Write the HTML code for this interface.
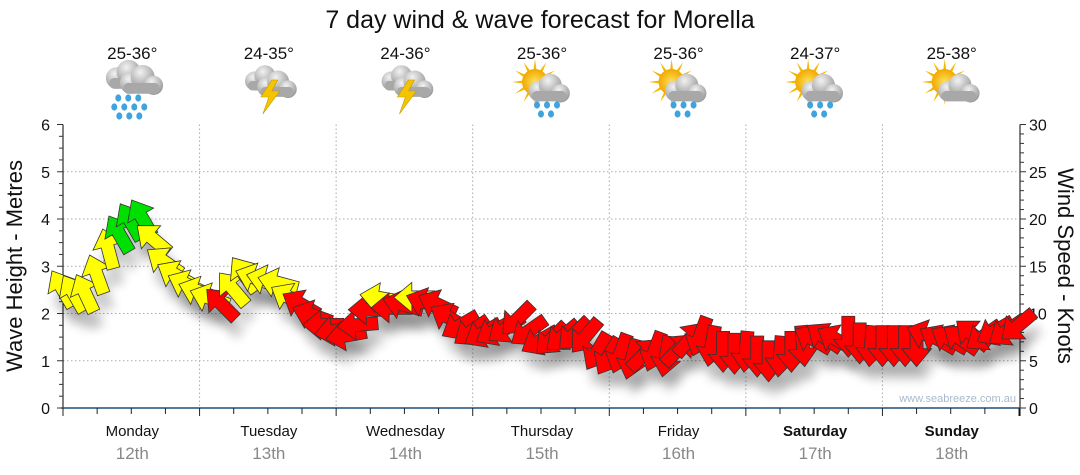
<!DOCTYPE html>
<html><head><meta charset="utf-8">
<style>
body{margin:0;background:#fff;}
svg{display:block;font-family:"Liberation Sans","DejaVu Sans",sans-serif;}
</style></head>
<body>
<svg id="chart" width="1080" height="475" viewBox="0 0 1080 475" xmlns="http://www.w3.org/2000/svg">
<defs>
<filter id="sh" x="-50%" y="-50%" width="200%" height="200%"><feGaussianBlur stdDeviation="5"/></filter>
<radialGradient id="cloudG" cx="0.4" cy="0.3" r="0.8"><stop offset="0" stop-color="#f2f2f2"/><stop offset="1" stop-color="#8c8c8c"/></radialGradient>
<radialGradient id="sunG" cx="0.5" cy="0.5" r="0.5"><stop offset="0" stop-color="#ffe25a"/><stop offset="1" stop-color="#f0a800"/></radialGradient>
</defs>
<text x="540" y="28" text-anchor="middle" font-size="25" fill="#111">7 day wind &amp; wave forecast for Morella</text>
<g id="grid"></g>
<g id="icons"></g>
<g id="axes"></g>
<g id="shadows"></g>
<polyline id="windline" fill="none" stroke="#aaa" stroke-width="1"/>
<g id="arrows"></g>
<text transform="translate(22,266) rotate(-90)" text-anchor="middle" font-size="22" fill="#111">Wave Height - Metres</text>
<text transform="translate(1058,266) rotate(90)" text-anchor="middle" font-size="22" fill="#111">Wind Speed - Knots</text>
<text x="1016" y="402" text-anchor="end" font-size="11" fill="#a9b9cc">www.seabreeze.com.au</text>
</svg>
<script>
const days = ["Monday","Tuesday","Wednesday","Thursday","Friday","Saturday","Sunday"];
const dates = ["12th","13th","14th","15th","16th","17th","18th"];
const temps = ["25-36°","24-35°","24-36°","25-36°","25-36°","24-37°","25-38°"];
const icons = ["rain","storm","storm","sunrain","sunrain","sunrain","suncloud"];
const leftTicks = [0,1,2,3,4,5,6];
const rightTicks = [0,5,10,15,20,25,30];
// wind speed in knots, every 2 hours from Monday 00:00
const windSpeed = [12.5,12,12,14,16.7,18.3,19.6,20,17.8,15.4,14,13,12.3,
 11.6,10.9,12.5,14,13.7,13.5,13.2,11.6,10.9,9.8,8.8,8.2,
 7.7,8.8,10.4,11.6,10.6,10.9,11.7,11.1,10.9,9.5,8.8,8.2,
 8,8.2,8.5,9.5,8.2,7.2,7.4,7.7,7.9,7.7,6.1,5.6,
 5.9,5.3,5.6,6.1,5.6,6.1,7.2,7.7,6.7,6.1,5.9,6.1,
 5.6,5.1,5.6,6.1,6.7,7.2,7.4,7.2,7.7,7,6.7,6.7,
 6.7,6.7,6.7,7.7,7.2,7.2,7.2,7.7,7.7,8.2,8.2,8.8];
// direction the arrow points, degrees clockwise from up
const windDir = [330,330,335,340,345,330,330,330,310,305,300,295,290,
 290,315,320,325,290,285,285,300,300,290,270,260,
 260,265,270,280,270,285,270,290,295,300,240,235,
 240,240,235,225,235,240,225,230,225,220,210,210,
 200,195,45,200,190,45,40,200,190,180,180,185,
 180,180,185,180,175,300,305,300,180,180,185,180,
 180,180,180,290,300,300,305,310,235,240,235,230,225];

const NS="http://www.w3.org/2000/svg";
const X0=63,X1=1019,Y0=408,Y6=124.5;
const hoursTotal=168;
const xT=h=>X0+(X1-X0)*h/hoursTotal;
const yM=m=>Y0-(Y0-Y6)*m/6;
const yK=k=>yM(k/5);
function mk(tag,attrs,parent){const e=document.createElementNS(NS,tag);for(const k in attrs)e.setAttribute(k,attrs[k]);parent.appendChild(e);return e;}
const grid=document.getElementById('grid'),axes=document.getElementById('axes');
for(let m=1;m<=5;m++){const l=mk('line',{x1:X0,x2:X1,y1:yM(m),y2:yM(m),stroke:'#aaa','stroke-dasharray':'1.5,2.5'},grid);

}
for(let d=1;d<7;d++){const x=xT(d*24);const l=mk('line',{x1:x,x2:x,y1:Y6,y2:Y0,stroke:'#aaa','stroke-dasharray':'1.5,2.5'},grid);

}
mk('line',{x1:X0,x2:X0,y1:Y6,y2:Y0+8,stroke:'#000'},axes);
for(let i=0;i<=24;i++){const y=yM(i/4);mk('line',{x1:X0-(i%4?4:6),x2:X0,y1:y,y2:y,stroke:'#333'},axes);}
leftTicks.forEach(v=>{const t=mk('text',{x:X0-13,y:yM(v)+6,'text-anchor':'end','font-size':16,fill:'#111'},axes);t.textContent=v;

});
mk('line',{x1:X1+1,x2:X1+1,y1:Y6,y2:Y0+8,stroke:'#000'},axes);
for(let k=0;k<=30;k++){const y=yK(k);mk('line',{x1:X1+1,x2:X1+(k%5?5:7),y1:y,y2:y,stroke:'#333'},axes);}
rightTicks.forEach(v=>{const t=mk('text',{x:X1+10,y:yK(v)+6,'font-size':16,fill:'#111'},axes);t.textContent=v;

});
mk('line',{x1:X0-2,x2:X1+1,y1:Y0,y2:Y0,stroke:'#1f4e79','stroke-width':1.5},axes);
for(let h=0;h<=168;h+=6){const x=xT(h);mk('line',{x1:x,x2:x,y1:Y0,y2:Y0+(h%24?6:8),stroke:'#222'},axes);}
days.forEach((d,i)=>{const cx=xT(i*24+12)+1;
const t=mk('text',{x:cx,y:436,'text-anchor':'middle','font-size':15,fill:'#111','font-weight':i>=5?'bold':'normal'},axes);t.textContent=d;


const t2=mk('text',{x:cx,y:459,'text-anchor':'middle','font-size':17,fill:'#888'},axes);t2.textContent=dates[i];


const t3=mk('text',{x:cx,y:59,'text-anchor':'middle','font-size':17,fill:'#111'},axes);t3.textContent=temps[i];


});
const ic=document.getElementById('icons');
function cloud(g,cx,cy,s){mk('circle',{cx:cx-8*s,cy:cy,r:9*s,fill:'url(#cloudG)'},g);mk('circle',{cx:cx+2*s,cy:cy-5*s,r:10*s,fill:'url(#cloudG)'},g);mk('circle',{cx:cx+11*s,cy:cy+2*s,r:8*s,fill:'url(#cloudG)'},g);mk('rect',{x:cx-14*s,y:cy,width:30*s,height:9*s,rx:4*s,fill:'#a8a8a8'},g);}
function drops(g,cx,cy,rows){rows.forEach((r,j)=>r.forEach(dx=>mk('ellipse',{cx:cx+dx,cy:cy+j*9,rx:3,ry:3.6,fill:'#3fa3dd'},g)));}
icons.forEach((type,i)=>{const cx=xT(i*24+12)+1,cy=88;const g=mk('g',{},ic);


if(type==='rain'){cloud(g,cx-6,cy-10,1.2);cloud(g,cx+8,cy-5,1.2);drops(g,cx,cy+10,[[-14,-4,6],[-18,-8,2,12],[-13,-3,7]]);}
else if(type==='storm'){cloud(g,cx-6,cy-7,1.05);cloud(g,cx+7,cy-1,1.1);mk('polygon',{points:`${cx+3},${cy-8} ${cx-8},${cy+9} ${cx},${cy+9} ${cx-6},${cy+26} ${cx+11},${cy+3} ${cx+3},${cy+3} ${cx+9},${cy-8}`,fill:'#f5c400',stroke:'#c79a00','stroke-width':0.6},g);}
else{const sx=cx-7,sy=cy-6;for(let a=0;a<360;a+=30){const r=a*Math.PI/180;mk('polygon',{points:`${sx+Math.cos(r-0.15)*11},${sy+Math.sin(r-0.15)*11} ${sx+Math.cos(r)*23},${sy+Math.sin(r)*23} ${sx+Math.cos(r+0.15)*11},${sy+Math.sin(r+0.15)*11}`,fill:'#f5b800'},g);}
mk('circle',{cx:sx,cy:sy,r:13,fill:'url(#sunG)'},g);cloud(g,cx+6,cy+3,1.15);
if(type==='sunrain')drops(g,cx+5,cy+17,[[-10,0,10],[-6,4]]);}
});
const arrowsG=document.getElementById('arrows'),shG=document.getElementById('shadows');
const pts=[];
function col(k){return k>=18?'#00e000':(k>=11.5?'#ffff00':'#ff0000');}
const shape="M0,-22 L15,-4 L6.5,-4 L6.5,19 L-6.5,19 L-6.5,-4 L-15,-4 Z";
windSpeed.forEach((k,i)=>{const x=xT(i*2),y=yK(k);pts.push(x+','+y);
const s=mk('path',{d:shape,fill:'#000',opacity:0.2,filter:'url(#sh)',transform:`translate(${x+5},${y+16}) rotate(${windDir[i]})`},shG);


const a=mk('path',{d:shape,fill:col(k),stroke:'#333','stroke-width':0.8,'stroke-linejoin':'miter',transform:`translate(${x},${y}) rotate(${windDir[i]})`},arrowsG);


});
document.getElementById('windline').setAttribute('points',pts.join(' '));
</script>
</body></html>
